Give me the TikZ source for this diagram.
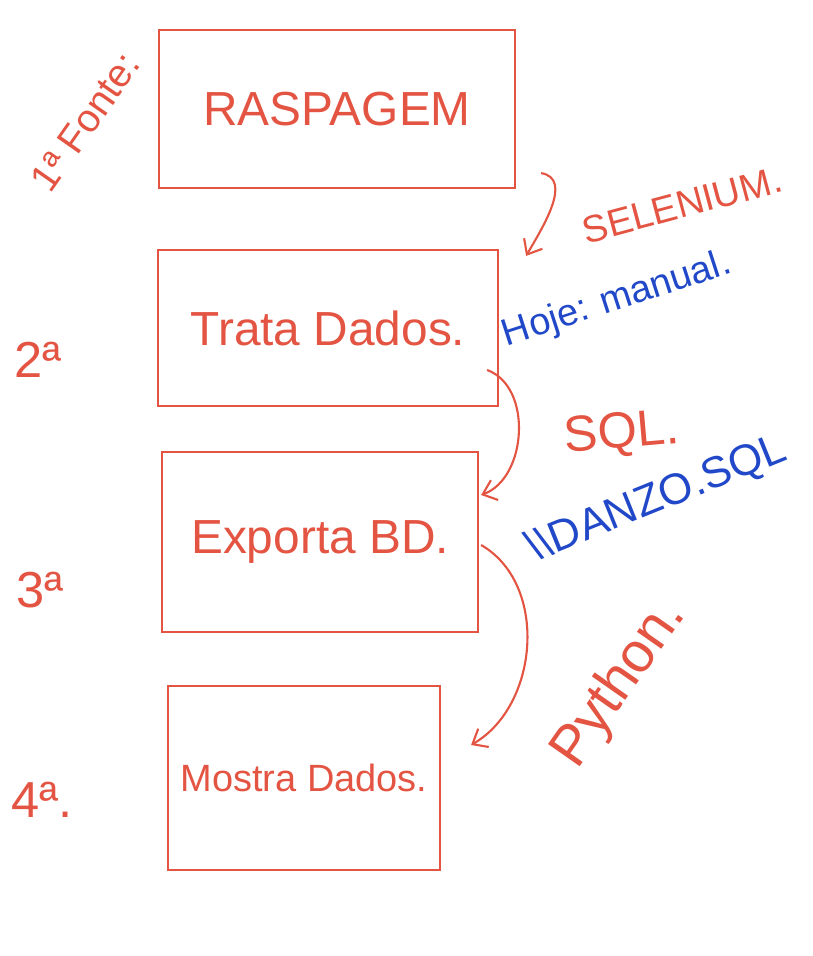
\documentclass[tikz,border=0pt]{standalone}
\usepackage{fontspec}
\setmainfont{Liberation Sans}
\usetikzlibrary{arrows.meta,positioning,calc}
\definecolor{sketchred}{RGB}{228,84,66}
\definecolor{sketchblue}{RGB}{32,72,200}

\begin{document}
\begin{tikzpicture}[x=0.025cm,y=0.025cm,
    box/.style={draw=sketchred, line width=1.5pt, text=sketchred, inner sep=0pt},
    note/.style={text=sketchred},
    bluenote/.style={text=sketchblue},
    flow/.style={-{Straight Barb[length=9pt,width=15pt]}, draw=sketchred, line width=1.5pt}]
            \useasboundingbox (0,0) rectangle (812,956);

            % Etapas
            \node[box, minimum width=8.9cm, minimum height=3.95cm, font=\fontsize{34}{40}\selectfont] (rasp) at (337,847) {RASPAGEM};
            \node[box, minimum width=8.5cm, minimum height=3.9cm, font=\fontsize{34}{40}\selectfont] (trata) at (328,628) {Trata Dados.};
            \node[box, minimum width=7.9cm, minimum height=4.5cm, font=\fontsize{34}{40}\selectfont] (exporta) at (320,414) {Exporta BD.};
            \node[box, minimum width=6.8cm, minimum height=4.6cm, font=\fontsize{27}{32}\selectfont] (mostra) at (304,178) {Mostra Dados.};

            % Ordem
            \node[note, rotate=55, font=\fontsize{28}{32}\selectfont] (fonte) at (85,834) {1ª Fonte:};
            \node[note, font=\fontsize{36}{40}\selectfont] (seg) at (38,596) {2ª};
            \node[note, font=\fontsize{36}{40}\selectfont] (ter) at (40,366) {3ª};
            \node[note, font=\fontsize{36}{40}\selectfont] (qua) at (42,156) {4ª.};

            % Ferramentas
            \node[note, rotate=15, font=\fontsize{27}{30}\selectfont] (selenium) at (682,751) {SELENIUM.};
            \node[bluenote, rotate=18, font=\fontsize{27}{30}\selectfont] (hoje) at (617,656) {Hoje: manual.};
            \node[note, rotate=5, font=\fontsize{36}{40}\selectfont] (sql) at (622,521) {SQL.};
            \node[bluenote, rotate=22, font=\fontsize{31}{36}\selectfont] (danzo) at (657,456) {\textbackslash\textbackslash DANZO.SQL};
            \node[note, rotate=55, font=\fontsize{40}{46}\selectfont] (python) at (620,272) {Python.};

            % Fluxo
            \draw[flow] ($(rasp.south east)+(25,16)$) to[out=-10,in=60] ($(trata.north east)+(27,-7)$);
            \draw[flow] ($(trata.east)+(-12,-42)$) to[out=-20,in=20] ($(exporta.east)+(2,47)$);
            \draw[flow] ($(exporta.east)+(2,-3)$) to[out=-30,in=30] ($(mostra.east)+(30,33)$);
        \end{tikzpicture}
\end{document}
